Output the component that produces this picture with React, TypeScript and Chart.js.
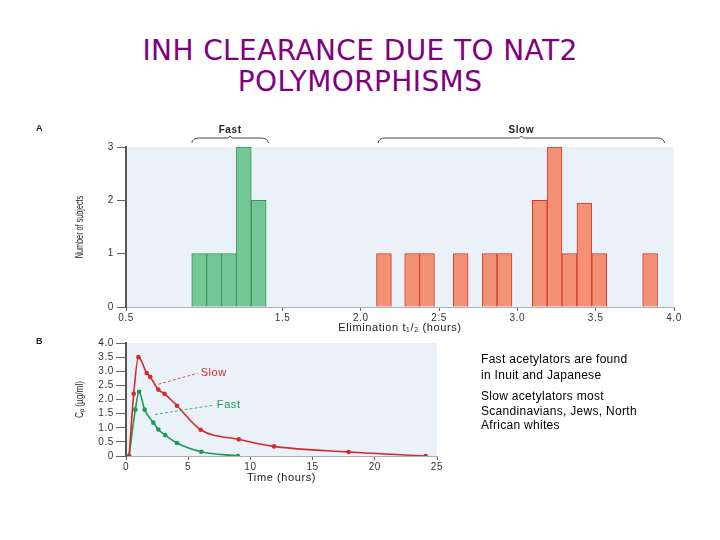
import React, { useEffect, useRef } from "react";
import { Chart, registerables } from "chart.js";

Chart.register(...registerables);

// ---------- Data ----------
// Panel A: histogram of elimination half-life (bin centres, hours) and number of subjects
const fastBinCenters = [0.9675, 1.0625, 1.1575, 1.2525, 1.3475];
const fastCounts = [1, 1, 1, 3, 2];
const slowBinCenters = [2.1475, 2.3275, 2.4225, 2.6375, 2.8225, 2.9175, 3.1425, 3.2375, 3.3325, 3.4275, 3.5225, 3.8475];
const slowCounts = [1, 1, 1, 1, 1, 1, 2, 3, 1, 1.95, 1, 1];
const histTickValues = [0.5, 1.5, 2.0, 2.5, 3.0, 3.5, 4.0];
const groupLabels = ["Fast", "Slow"];
const groupFrom = [0.92, 2.11];
const groupTo = [1.41, 3.94];

// Panel B: plasma concentration vs time
const slowTimes = [0.25, 0.62, 1.0, 1.66, 1.95, 2.6, 3.1, 4.1, 6.0, 9.07, 11.9, 17.9, 24.1];
const slowConc = [0, 2.2, 3.5, 2.94, 2.8, 2.35, 2.2, 1.78, 0.93, 0.59, 0.34, 0.14, 0];
const fastTimes = [0.25, 0.75, 1.05, 1.5, 2.2, 2.6, 3.15, 4.1, 6.05, 9.0];
const fastConc = [0, 1.64, 2.27, 1.64, 1.18, 0.94, 0.74, 0.46, 0.15, 0];
const curveLabels = ["Slow", "Fast"];
const labelTime = [6.0, 7.3];
const labelConc = [2.93, 1.8];
const leaderTime = [2.6, 2.33];
const leaderConc = [2.54, 1.47];

const FAST_FILL = "#74c794";
const FAST_EDGE = "#2f9a57";
const SLOW_FILL = "#f29173";
const SLOW_EDGE = "#d6372b";
const SLOW_LINE = "#d42a2d";
const FAST_LINE = "#1f9a55";
const PLOT_BG = "#eaf1f8";
const SANS = "'Liberation Sans', Arial, sans-serif";

const plotBg = {
  id: "plotBg",
  beforeDraw(chart: any) {
    const { ctx, chartArea } = chart;
    // slightly wide letter spacing for every label drawn on this canvas
    (ctx as any).letterSpacing = "0.6px";
    ctx.save();
    ctx.fillStyle = PLOT_BG;
    ctx.fillRect(chartArea.left, chartArea.top, chartArea.width, chartArea.height);
    ctx.restore();
  },
};

function panelLetter(letter: string, y: number) {
  return {
    id: "panelLetter" + letter,
    afterDraw(chart: any) {
      const ctx = chart.ctx;
      ctx.save();
      ctx.fillStyle = "#222";
      ctx.font = `bold 9px ${SANS}`;
      ctx.textBaseline = "middle";
      ctx.textAlign = "left";
      ctx.fillText(letter, 36, y);
      ctx.restore();
    },
  };
}

// condensed, rotated y-axis title centred on the chart area
function condensedYTitle(text: string, centerX: number, squeeze: number) {
  return {
    id: "yTitle",
    afterDraw(chart: any) {
      const { ctx, chartArea } = chart;
      ctx.save();
      (ctx as any).letterSpacing = "0px";
      ctx.translate(centerX, (chartArea.top + chartArea.bottom) / 2);
      ctx.rotate(-Math.PI / 2);
      ctx.scale(squeeze, 1);
      ctx.fillStyle = "#222";
      ctx.font = `11px ${SANS}`;
      ctx.textAlign = "center";
      ctx.textBaseline = "middle";
      ctx.fillText(text, 0, 0);
      ctx.restore();
    },
  };
}

const brackets = {
  id: "brackets",
  afterDraw(chart: any) {
    const { ctx, chartArea } = chart;
    const xs = chart.scales.x;
    const yLine = chartArea.top - 9;
    ctx.save();
    ctx.strokeStyle = "#444";
    ctx.lineWidth = 1;
    groupLabels.forEach((label, i) => {
      const a = xs.getPixelForValue(groupFrom[i]);
      const b = xs.getPixelForValue(groupTo[i]);
      const m = (a + b) / 2;
      ctx.beginPath();
      ctx.moveTo(a, yLine + 5);
      ctx.quadraticCurveTo(a + 1, yLine, a + 7, yLine);
      ctx.lineTo(m - 2, yLine);
      ctx.lineTo(m, yLine - 2);
      ctx.lineTo(m + 2, yLine);
      ctx.lineTo(b - 7, yLine);
      ctx.quadraticCurveTo(b - 1, yLine, b, yLine + 5);
      ctx.stroke();
      ctx.fillStyle = "#222";
      ctx.font = `bold 10px ${SANS}`;
      ctx.textAlign = "center";
      ctx.textBaseline = "middle";
      ctx.fillText(label, m, yLine - 8);
    });
    ctx.restore();
  },
};

const curveAnnotations = {
  id: "curveAnnotations",
  afterDatasetsDraw(chart: any) {
    const { ctx } = chart;
    const xs = chart.scales.x;
    const ys = chart.scales.y;
    const colors = [SLOW_LINE, FAST_LINE];
    ctx.save();
    curveLabels.forEach((label, i) => {
      const x0 = xs.getPixelForValue(leaderTime[i]);
      const y0 = ys.getPixelForValue(leaderConc[i]);
      const x1 = xs.getPixelForValue(labelTime[i]);
      const y1 = ys.getPixelForValue(labelConc[i]);
      ctx.strokeStyle = colors[i];
      ctx.lineWidth = 0.8;
      ctx.setLineDash([3, 2]);
      ctx.beginPath();
      ctx.moveTo(x0, y0);
      ctx.lineTo(x1 - 3, y1);
      ctx.stroke();
      ctx.setLineDash([]);
      ctx.fillStyle = colors[i];
      ctx.font = `11px ${SANS}`;
      ctx.textAlign = "left";
      ctx.textBaseline = "middle";
      ctx.fillText(label, x1, y1);
    });
    ctx.restore();
  },
};

function makeHistogram(): any {
  const barCommon = {
    grouped: false,
    barPercentage: 1,
    categoryPercentage: 1,
    borderWidth: 1,
    borderSkipped: "bottom",
  };
  return {
    type: "bar",
    data: {
      datasets: [
        {
          ...barCommon,
          label: "Fast",
          data: fastBinCenters.map((x, i) => ({ x, y: fastCounts[i] })),
          backgroundColor: FAST_FILL,
          borderColor: FAST_EDGE,
        },
        {
          ...barCommon,
          label: "Slow",
          data: slowBinCenters.map((x, i) => ({ x, y: slowCounts[i] })),
          backgroundColor: SLOW_FILL,
          borderColor: SLOW_EDGE,
        },
      ],
    },
    options: {
      animation: false,
      responsive: false,
      layout: { padding: { left: 0, right: 46, top: 32, bottom: 0 } },
      plugins: { legend: { display: false }, tooltip: { enabled: false } },
      scales: {
        x: {
          type: "linear",
          min: 0.5,
          max: 4.0,
          offset: false,
          afterBuildTicks: (s: any) => {
            s.ticks = histTickValues.map((v) => ({ value: v }));
          },
          afterFit: (s: any) => {
            s.height = 33;
          },
          ticks: {
            autoSkip: false,
            maxRotation: 0,
            padding: 1,
            color: "#333",
            font: { family: SANS, size: 10 },
            callback: (v: any) => Number(v).toFixed(1),
          },
          grid: { display: true, offset: false, drawOnChartArea: false, drawTicks: true, tickLength: 4, color: "#666" },
          border: { display: true, color: "#aab0b6", width: 1 },
          title: {
            display: true,
            text: "Elimination t\u2081/\u2082 (hours)",
            color: "#222",
            font: { family: SANS, size: 11 },
            padding: { top: 0, bottom: 5 },
          },
        },
        y: {
          min: 0,
          max: 3,
          afterFit: (s: any) => {
            s.width = 126;
          },
          ticks: { stepSize: 1, autoSkip: false, padding: 3, color: "#333", font: { family: SANS, size: 10 } },
          grid: { display: true, drawOnChartArea: false, drawTicks: true, tickLength: 9, color: "#666" },
          border: { display: true, color: "#555", width: 2 },
          title: { display: false },
        },
      },
    },
    plugins: [plotBg, brackets, panelLetter("A", 14), condensedYTitle("Number of subjects", 80, 0.66)],
  };
}

function makeLineChart(): any {
  const lineCommon = {
    borderWidth: 1.6,
    pointRadius: 2.3,
    pointBorderWidth: 0,
    cubicInterpolationMode: "monotone",
    fill: false,
  };
  return {
    type: "line",
    data: {
      datasets: [
        {
          ...lineCommon,
          label: "Slow",
          data: slowTimes.map((x, i) => ({ x, y: slowConc[i] })),
          borderColor: SLOW_LINE,
          backgroundColor: SLOW_LINE,
        },
        {
          ...lineCommon,
          label: "Fast",
          data: fastTimes.map((x, i) => ({ x, y: fastConc[i] })),
          borderColor: FAST_LINE,
          backgroundColor: FAST_LINE,
        },
      ],
    },
    options: {
      animation: false,
      responsive: false,
      layout: { padding: { left: 0, right: 283, top: 8, bottom: 0 } },
      plugins: { legend: { display: false }, tooltip: { enabled: false } },
      scales: {
        x: {
          type: "linear",
          min: 0,
          max: 25,
          afterFit: (s: any) => {
            s.height = 34;
          },
          ticks: { stepSize: 5, autoSkip: false, padding: 1, maxRotation: 0, color: "#333", font: { family: SANS, size: 10 } },
          grid: { display: true, drawOnChartArea: false, drawTicks: true, tickLength: 4, color: "#666" },
          border: { display: true, color: "#aab0b6", width: 1 },
          title: {
            display: true,
            text: "Time (hours)",
            color: "#222",
            font: { family: SANS, size: 11 },
            padding: { top: 0, bottom: 5 },
          },
        },
        y: {
          min: 0,
          max: 4,
          afterFit: (s: any) => {
            s.width = 126;
          },
          ticks: {
            stepSize: 0.5,
            autoSkip: false,
            padding: 2,
            color: "#333",
            font: { family: SANS, size: 10 },
            callback: (v: any) => (Number(v) === 0 ? "0" : Number(v).toFixed(1)),
          },
          grid: { display: true, drawOnChartArea: false, drawTicks: true, tickLength: 10, color: "#666" },
          border: { display: true, color: "#555", width: 2 },
          title: { display: false },
        },
      },
    },
    plugins: [plotBg, curveAnnotations, panelLetter("B", 7), condensedYTitle("C\u209A (\u00B5g/ml)", 80, 0.75)],
  };
}

function ChartCanvas(props: { left: number; top: number; width: number; height: number; make: () => any }) {
  const ref = useRef<HTMLCanvasElement>(null);
  useEffect(() => {
    const chart = new Chart(ref.current as HTMLCanvasElement, props.make());
    return () => chart.destroy();
  }, []);
  return (
    <canvas
      ref={ref}
      width={props.width}
      height={props.height}
      style={{ position: "absolute", left: props.left, top: props.top, width: props.width, height: props.height }}
    />
  );
}

export default function App() {
  const noteStyle = {
    position: "absolute" as const,
    left: 481,
    width: 230,
    fontFamily: SANS,
    fontSize: 12,
    letterSpacing: "0.3px",
    color: "#000",
  };
  return (
    <div
      style={{
        position: "absolute",
        left: 0,
        top: 0,
        width: 720,
        height: 540,
        background: "#ffffff",
        overflow: "hidden",
      }}
    >
      <div
        style={{
          position: "absolute",
          left: 0,
          top: 35,
          width: 720,
          textAlign: "center",
          color: "#800080",
          fontFamily: "'DejaVu Sans', sans-serif",
          fontSize: 28,
          letterSpacing: "0.4px",
          lineHeight: "31px",
        }}
      >
        INH CLEARANCE DUE TO NAT2
        <br />
        POLYMORPHISMS
      </div>
      <ChartCanvas left={0} top={115} width={720} height={225} make={makeHistogram} />
      <ChartCanvas left={0} top={335} width={720} height={155} make={makeLineChart} />
      <div style={{ ...noteStyle, top: 351, lineHeight: "16px" }}>
        Fast acetylators are found
        <br />
        in Inuit and Japanese
      </div>
      <div style={{ ...noteStyle, top: 389, lineHeight: "14.5px" }}>
        Slow acetylators most
        <br />
        Scandinavians, Jews, North
        <br />
        African whites
      </div>
    </div>
  );
}
